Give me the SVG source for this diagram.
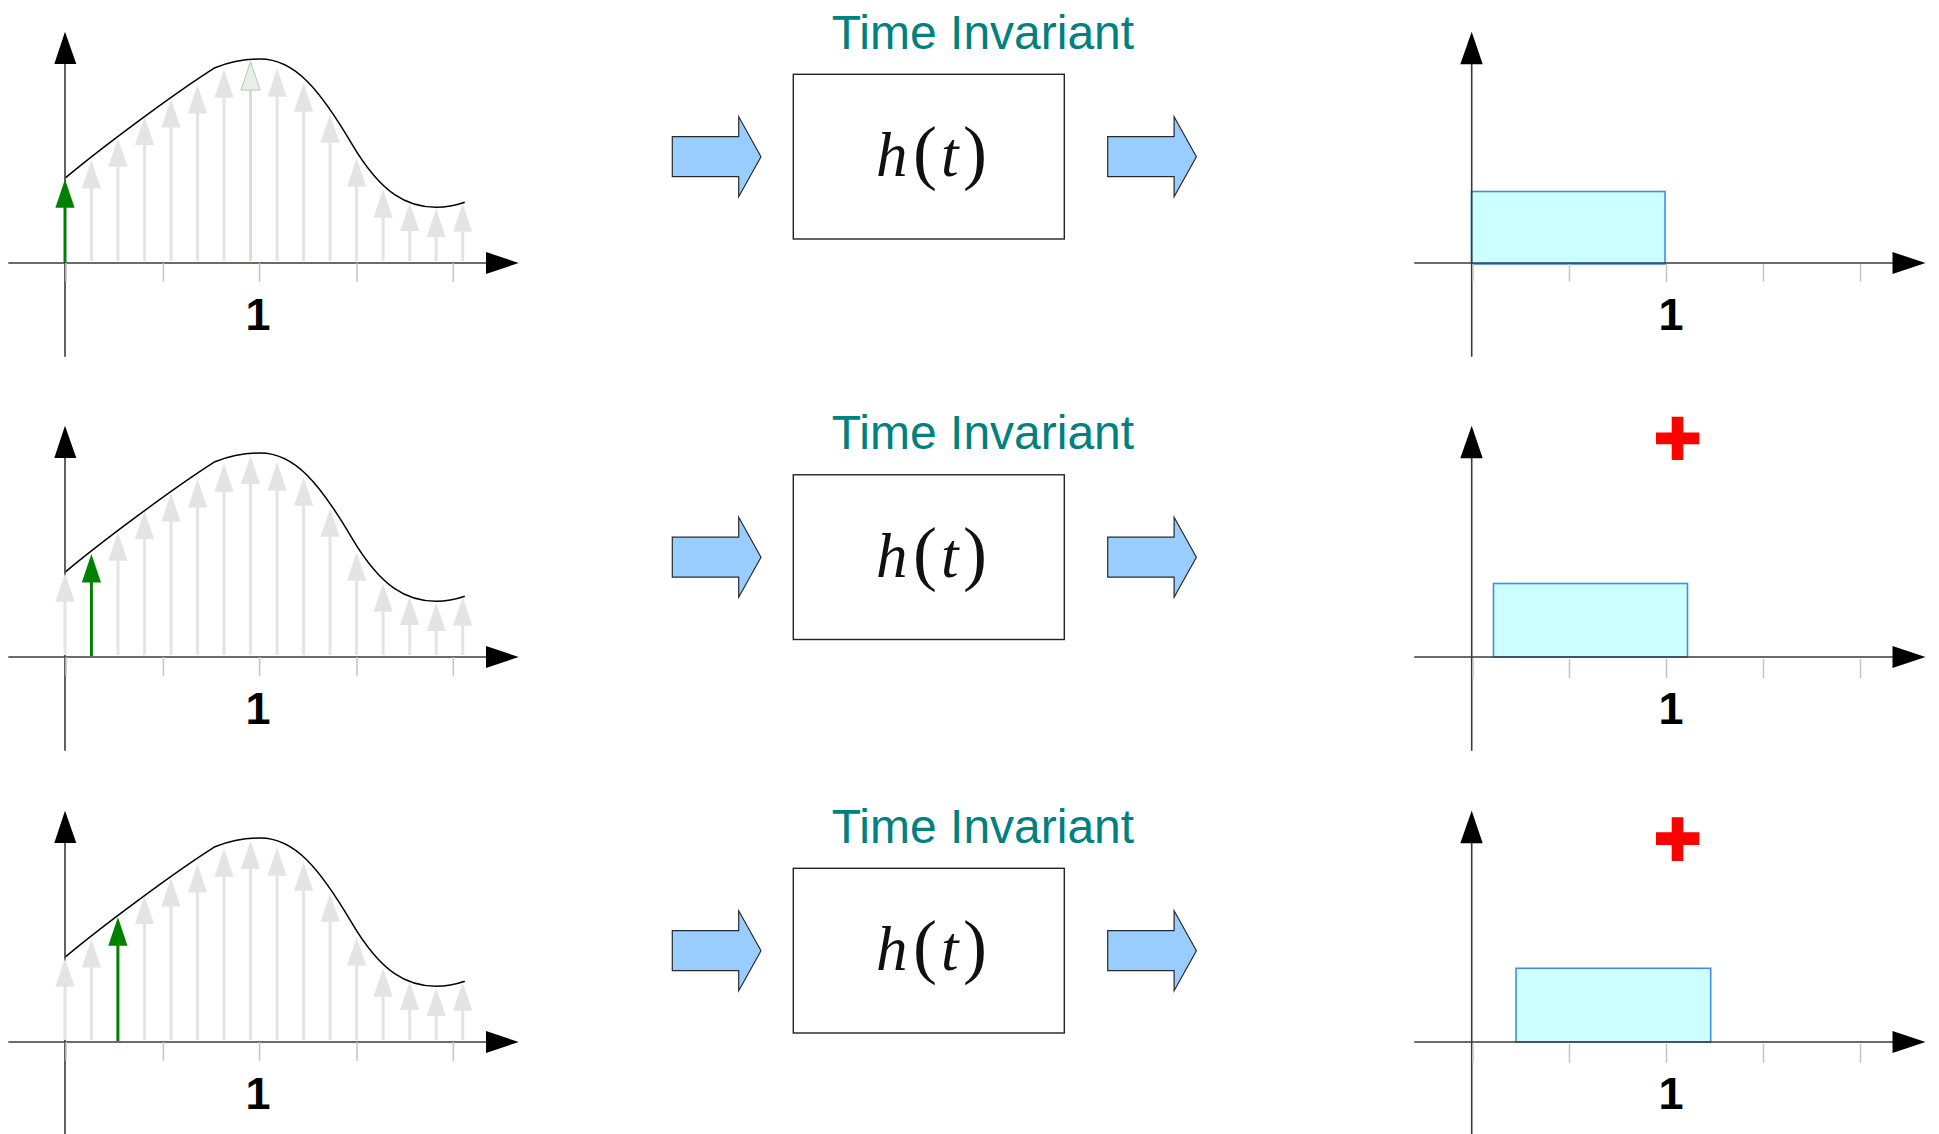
<svg xmlns="http://www.w3.org/2000/svg" xmlns:xlink="http://www.w3.org/1999/xlink" width="1939" height="1134" viewBox="0 0 1939 1134">
<style>
  .axis{stroke:#3a3a3a;stroke-width:1.6;fill:none}
  .axhead{fill:#000}
  .tick{stroke:#c4c4c4;stroke-width:1.5}
  .gs{stroke:#e4e4e4;stroke-width:3;fill:none}
  .gh{fill:#e4e4e4}
  .grs{stroke:#008000;stroke-width:3;fill:none}
  .grh{fill:#008000}
  .curve{stroke:#000;stroke-width:1.5;fill:none}
  .one{font-family:'Liberation Sans',Arial,sans-serif;font-weight:700;font-size:45px;fill:#000;text-anchor:middle}
  .title{font-family:'Liberation Sans',Arial,sans-serif;font-size:48px;fill:#008080;text-anchor:middle}
  .box{fill:#fff;stroke:#222;stroke-width:1.4}
  .mi{font-family:'Liberation Serif','Times New Roman',serif;font-style:italic;font-size:63px;fill:#111}
  .mp{font-family:'Liberation Serif','Times New Roman',serif;font-size:72px;fill:#111}
  .barrow{fill:#99ccff;stroke:#2a2a2a;stroke-width:1.2;stroke-linejoin:miter}
  .pulse{fill:#ccffff;stroke:#3d8fe0;stroke-width:1.6}
  .plus{fill:#ff0000}
</style>
<defs>
  <path id="hd" d="M0,0 L-9.6,28.4 L9.6,28.4 Z"/>
  <path id="curveL" class="curve" d="M65.7,177.7 C100,149 172,95 215,67.7 C232,61 248,59 260.3,59 C295,59 320,90 351.5,143.3 C382,195 408,207.3 436,207.3 C448,207.3 457,205 464.8,202.3"/>
</defs>

<!-- ===== Input panels ===== -->
<g id="input1">
  <line class="axis" x1="65" y1="62" x2="65" y2="356.7"/>
  <path class="axhead" d="M65,31.7 L54.3,64 L76.3,64 Z"/>
  <line class="axis" x1="8.3" y1="263" x2="488" y2="263"/>
  <path class="axhead" d="M518.8,263 L486,252 L486,274 Z"/>
  <path class="tick" d="M66,263V281.7 M163.4,263V281.7 M259.6,263V281.7 M357,263V281.7 M453.3,263V281.7"/>
  <path class="gs" d="M91.4,188V261 M117.9,166.3V261 M144.5,144.7V261 M171,127V261 M197.5,113V261 M224,97.3V261 M277.1,96.3V261 M303.6,111.3V261 M330.1,142.3V261 M356.6,186.3V261 M383.1,217.3V261 M409.7,230.7V261 M436.2,236.7V261 M462.7,231.3V261"/>
  <g class="gh">
    <use xlink:href="#hd" x="91.4" y="160"/><use xlink:href="#hd" x="117.9" y="138.3"/><use xlink:href="#hd" x="144.5" y="116.7"/><use xlink:href="#hd" x="171" y="99"/><use xlink:href="#hd" x="197.5" y="85"/><use xlink:href="#hd" x="224" y="69.3"/><use xlink:href="#hd" x="277.1" y="68.3"/><use xlink:href="#hd" x="303.6" y="83.3"/><use xlink:href="#hd" x="330.1" y="114.3"/><use xlink:href="#hd" x="356.6" y="158.3"/><use xlink:href="#hd" x="383.1" y="189.3"/><use xlink:href="#hd" x="409.7" y="202.7"/><use xlink:href="#hd" x="436.2" y="208.7"/><use xlink:href="#hd" x="462.7" y="203.3"/>
  </g>
  <line x1="250.5" y1="89.7" x2="250.5" y2="261" stroke="#d3e3d3" stroke-width="3"/>
  <use xlink:href="#hd" x="250.5" y="61.7" fill="#e8eee8" stroke="#a9d2a9" stroke-width="1"/>
  <line class="grs" x1="65" y1="206" x2="65" y2="262"/>
  <use xlink:href="#hd" x="65" y="179.3" class="grh"/>
  <use xlink:href="#curveL"/>
  <text class="one" x="258" y="330">1</text>
</g>

<g id="input2" transform="translate(0,394)">
  <line class="axis" x1="65" y1="62" x2="65" y2="356.7"/>
  <path class="axhead" d="M65,31.7 L54.3,64 L76.3,64 Z"/>
  <line class="axis" x1="8.3" y1="263" x2="488" y2="263"/>
  <path class="axhead" d="M518.8,263 L486,252 L486,274 Z"/>
  <path class="tick" d="M66,263V281.7 M163.4,263V281.7 M259.6,263V281.7 M357,263V281.7 M453.3,263V281.7"/>
  <path class="gs" d="M65,207.3V261 M117.9,166.3V261 M144.5,144.7V261 M171,127V261 M197.5,113V261 M224,97.3V261 M250.5,89.7V261 M277.1,96.3V261 M303.6,111.3V261 M330.1,142.3V261 M356.6,186.3V261 M383.1,217.3V261 M409.7,230.7V261 M436.2,236.7V261 M462.7,231.3V261"/>
  <g class="gh">
    <use xlink:href="#hd" x="65" y="179.3"/><use xlink:href="#hd" x="117.9" y="138.3"/><use xlink:href="#hd" x="144.5" y="116.7"/><use xlink:href="#hd" x="171" y="99"/><use xlink:href="#hd" x="197.5" y="85"/><use xlink:href="#hd" x="224" y="69.3"/><use xlink:href="#hd" x="250.5" y="61.7"/><use xlink:href="#hd" x="277.1" y="68.3"/><use xlink:href="#hd" x="303.6" y="83.3"/><use xlink:href="#hd" x="330.1" y="114.3"/><use xlink:href="#hd" x="356.6" y="158.3"/><use xlink:href="#hd" x="383.1" y="189.3"/><use xlink:href="#hd" x="409.7" y="202.7"/><use xlink:href="#hd" x="436.2" y="208.7"/><use xlink:href="#hd" x="462.7" y="203.3"/>
  </g>
  <line class="grs" x1="91.4" y1="187" x2="91.4" y2="262"/>
  <use xlink:href="#hd" x="91.4" y="160" class="grh"/>
  <use xlink:href="#curveL"/>
  <text class="one" x="258" y="330">1</text>
</g>

<g id="input3" transform="translate(0,779)">
  <line class="axis" x1="65" y1="62" x2="65" y2="356.7"/>
  <path class="axhead" d="M65,31.7 L54.3,64 L76.3,64 Z"/>
  <line class="axis" x1="8.3" y1="263" x2="488" y2="263"/>
  <path class="axhead" d="M518.8,263 L486,252 L486,274 Z"/>
  <path class="tick" d="M66,263V281.7 M163.4,263V281.7 M259.6,263V281.7 M357,263V281.7 M453.3,263V281.7"/>
  <path class="gs" d="M65,207.3V261 M91.4,188V261 M144.5,144.7V261 M171,127V261 M197.5,113V261 M224,97.3V261 M250.5,89.7V261 M277.1,96.3V261 M303.6,111.3V261 M330.1,142.3V261 M356.6,186.3V261 M383.1,217.3V261 M409.7,230.7V261 M436.2,236.7V261 M462.7,231.3V261"/>
  <g class="gh">
    <use xlink:href="#hd" x="65" y="179.3"/><use xlink:href="#hd" x="91.4" y="160"/><use xlink:href="#hd" x="144.5" y="116.7"/><use xlink:href="#hd" x="171" y="99"/><use xlink:href="#hd" x="197.5" y="85"/><use xlink:href="#hd" x="224" y="69.3"/><use xlink:href="#hd" x="250.5" y="61.7"/><use xlink:href="#hd" x="277.1" y="68.3"/><use xlink:href="#hd" x="303.6" y="83.3"/><use xlink:href="#hd" x="330.1" y="114.3"/><use xlink:href="#hd" x="356.6" y="158.3"/><use xlink:href="#hd" x="383.1" y="189.3"/><use xlink:href="#hd" x="409.7" y="202.7"/><use xlink:href="#hd" x="436.2" y="208.7"/><use xlink:href="#hd" x="462.7" y="203.3"/>
  </g>
  <line class="grs" x1="117.9" y1="165" x2="117.9" y2="262"/>
  <use xlink:href="#hd" x="117.9" y="138.3" class="grh"/>
  <use xlink:href="#curveL"/>
  <text class="one" x="258" y="330">1</text>
</g>

<!-- ===== System blocks ===== -->
<g id="system1">
  <text class="title" x="983" y="48.5">Time Invariant</text>
  <rect class="box" x="793.3" y="74.3" width="271" height="164.7"/>
  <text class="mi" x="876" y="176">h</text>
  <text class="mp" x="913" y="176">(</text>
  <text class="mi" x="941" y="176">t</text>
  <text class="mp" x="963" y="176">)</text>
</g>
<g id="system2" transform="translate(0,400.5)">
  <text class="title" x="983" y="48.5">Time Invariant</text>
  <rect class="box" x="793.3" y="74.3" width="271" height="164.7"/>
  <text class="mi" x="876" y="176">h</text>
  <text class="mp" x="913" y="176">(</text>
  <text class="mi" x="941" y="176">t</text>
  <text class="mp" x="963" y="176">)</text>
</g>
<g id="system3" transform="translate(0,794)">
  <text class="title" x="983" y="48.5">Time Invariant</text>
  <rect class="box" x="793.3" y="74.3" width="271" height="164.7"/>
  <text class="mi" x="876" y="176">h</text>
  <text class="mp" x="913" y="176">(</text>
  <text class="mi" x="941" y="176">t</text>
  <text class="mp" x="963" y="176">)</text>
</g>

<!-- ===== Connectors (block arrows) ===== -->
<g id="connectors">
  <path class="barrow" d="M672.3,136.7 H738.7 V116.7 L761,156.7 L738.7,196.7 V176.7 H672.3 Z"/>
  <path class="barrow" d="M1107.7,136.7 H1174.1 V116.7 L1196.4,156.7 L1174.1,196.7 V176.7 H1107.7 Z"/>
  <path class="barrow" transform="translate(0,400.5)" d="M672.3,136.7 H738.7 V116.7 L761,156.7 L738.7,196.7 V176.7 H672.3 Z"/>
  <path class="barrow" transform="translate(0,400.5)" d="M1107.7,136.7 H1174.1 V116.7 L1196.4,156.7 L1174.1,196.7 V176.7 H1107.7 Z"/>
  <path class="barrow" transform="translate(0,794)" d="M672.3,136.7 H738.7 V116.7 L761,156.7 L738.7,196.7 V176.7 H672.3 Z"/>
  <path class="barrow" transform="translate(0,794)" d="M1107.7,136.7 H1174.1 V116.7 L1196.4,156.7 L1174.1,196.7 V176.7 H1107.7 Z"/>
</g>

<!-- ===== Output panels ===== -->
<g id="output1">
  <rect class="pulse" x="1471.5" y="191.5" width="193.5" height="72.5"/>
  <line class="axis" x1="1471.7" y1="62" x2="1471.7" y2="356.7"/>
  <path class="axhead" d="M1471.7,31.7 L1460.3,64.3 L1482.7,64.3 Z"/>
  <line class="axis" x1="1414.3" y1="263" x2="1894" y2="263"/>
  <path class="axhead" d="M1925.5,263 L1892.5,252 L1892.5,274 Z"/>
  <path class="tick" d="M1473,264V281.7 M1569.5,264V281.7 M1666.5,264V281.7 M1763.5,264V281.7 M1860.5,264V281.7"/>
  <text class="one" x="1671" y="330">1</text>
</g>
<g id="output2" transform="translate(0,394)">
  <rect class="pulse" x="1493.5" y="189.5" width="194" height="73.5"/>
  <line class="axis" x1="1471.7" y1="62" x2="1471.7" y2="356.7"/>
  <path class="axhead" d="M1471.7,31.7 L1460.3,64.3 L1482.7,64.3 Z"/>
  <line class="axis" x1="1414.3" y1="263" x2="1894" y2="263"/>
  <path class="axhead" d="M1925.5,263 L1892.5,252 L1892.5,274 Z"/>
  <path class="tick" d="M1473,265V284 M1569.5,265V284 M1666.5,265V284 M1763.5,265V284 M1860.5,265V284"/>
  <text class="one" x="1671" y="330">1</text>
  <path class="plus" d="M1671.7,22.7 H1683.3 V38.5 H1699.3 V50.2 H1683.3 V66 H1671.7 V50.2 H1656 V38.5 H1671.7 Z"/>
</g>
<g id="output3" transform="translate(0,779)">
  <rect class="pulse" x="1516" y="189.3" width="194.7" height="73.7"/>
  <line class="axis" x1="1471.7" y1="62" x2="1471.7" y2="356.7"/>
  <path class="axhead" d="M1471.7,31.7 L1460.3,64.3 L1482.7,64.3 Z"/>
  <line class="axis" x1="1414.3" y1="263" x2="1894" y2="263"/>
  <path class="axhead" d="M1925.5,263 L1892.5,252 L1892.5,274 Z"/>
  <path class="tick" d="M1473,265V284 M1569.5,265V284 M1666.5,265V284 M1763.5,265V284 M1860.5,265V284"/>
  <text class="one" x="1671" y="330">1</text>
  <path class="plus" d="M1671.7,38.3 H1683.3 V53.3 H1699.3 V66 H1683.3 V82 H1671.7 V66 H1656 V53.3 H1671.7 Z"/>
</g>
</svg>
